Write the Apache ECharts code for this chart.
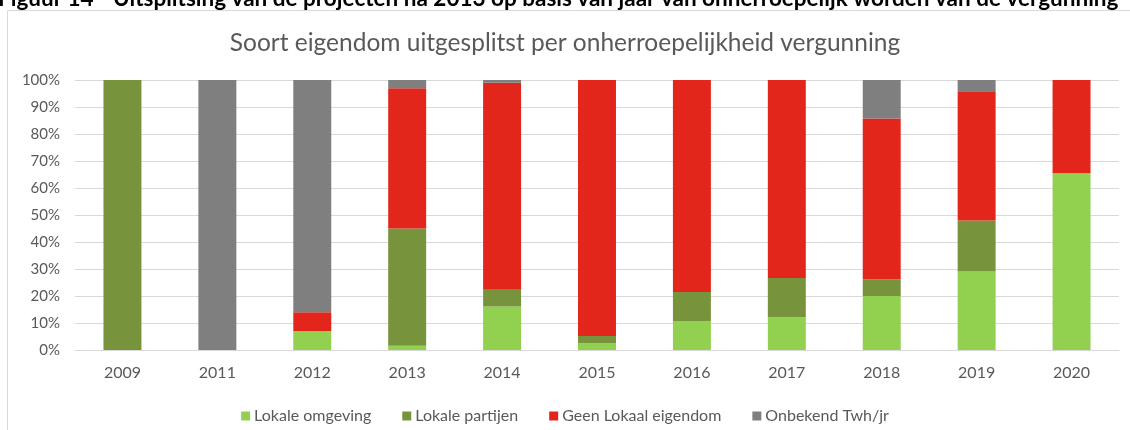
<!DOCTYPE html>
<html>
<head>
<meta charset="utf-8">
<script src="https://cdn.jsdelivr.net/npm/echarts@6/dist/echarts.min.js"></script>
<style>
  html, body { margin: 0; padding: 0; background: #ffffff; }
  #chart { width: 1130px; height: 430px; }
</style>
</head>
<body>
<div id="chart"></div>
<script>
// jaren en aandelen (%) per eigendomssoort
var years = ['2009', '2011', '2012', '2013', '2014', '2015', '2016', '2017', '2018', '2019', '2020'];
var lokaleOmgeving = [0, 0, 7, 1.6, 16.1, 2.5, 10.7, 12.1, 20, 29.1, 65.5];
var lokalePartijen = [100, 0, 0, 43.4, 6.2, 2.7, 10.8, 14.6, 6.2, 18.9, 0];
var geenLokaal = [0, 0, 7, 51.9, 76.7, 94.8, 78.5, 73.3, 59.5, 47.8, 34.5];
var onbekend = [0, 100, 86, 3.1, 1, 0, 0, 0, 14.3, 4.2, 0];

var chart = echarts.init(document.getElementById('chart'));
var font = 'Lato, "Open Sans", sans-serif';

function bar(name, data, color) {
  return {
    name: name,
    type: 'bar',
    stack: 'totaal',
    barWidth: '40%',
    itemStyle: { color: color },
    data: data
  };
}

var option = {
  animation: false,
  textStyle: { fontFamily: font },
  title: [
    {
      text: 'Figuur 14 - Uitsplitsing van de projecten na 2013 op basis van jaar van onherroepelijk worden van de vergunning',
      left: -2,
      top: -13,
      padding: 0,
      textStyle: { fontSize: 22.5, fontWeight: 'bold', color: '#000000', fontFamily: font }
    },
    {
      text: 'Soort eigendom uitgesplitst per onherroepelijkheid vergunning',
      left: 'center',
      top: 31,
      padding: 0,
      textStyle: { fontSize: 24.5, fontWeight: 'normal', color: '#595959', fontFamily: font }
    }
  ],
  graphic: [
    {
      type: 'rect',
      shape: { x: 7.5, y: 10.5, width: 1140, height: 440 },
      style: { fill: 'none', stroke: '#d9d9d9', lineWidth: 1 },
      silent: true
    }
  ],
  legend: {
    top: 403,
    left: 'center',
    icon: 'rect',
    itemWidth: 9,
    itemHeight: 9,
    itemGap: 31,
    textStyle: { fontSize: 16, color: '#595959', padding: [0, 0, 0, -1] },
    data: ['Lokale omgeving', 'Lokale partijen', 'Geen Lokaal eigendom', 'Onbekend Twh/jr']
  },
  grid: {
    left: 75,
    right: 11,
    top: 80,
    bottom: 80
  },
  xAxis: {
    type: 'category',
    data: years,
    axisLine: { lineStyle: { color: '#d9d9d9' } },
    axisTick: { show: false },
    axisLabel: { fontSize: 16, color: '#595959', margin: 15 }
  },
  yAxis: {
    type: 'value',
    min: 0,
    max: 100,
    interval: 10,
    axisLabel: { formatter: '{value}%', fontSize: 15, color: '#595959', margin: 15 },
    axisLine: { show: false },
    axisTick: { show: false },
    splitLine: { lineStyle: { color: '#d9d9d9' } }
  },
  series: [
    bar('Lokale omgeving', lokaleOmgeving, '#92d050'),
    bar('Lokale partijen', lokalePartijen, '#77933c'),
    bar('Geen Lokaal eigendom', geenLokaal, '#e2261c'),
    bar('Onbekend Twh/jr', onbekend, '#7f7f7f')
  ]
};

chart.setOption(option);
</script>
</body>
</html>
